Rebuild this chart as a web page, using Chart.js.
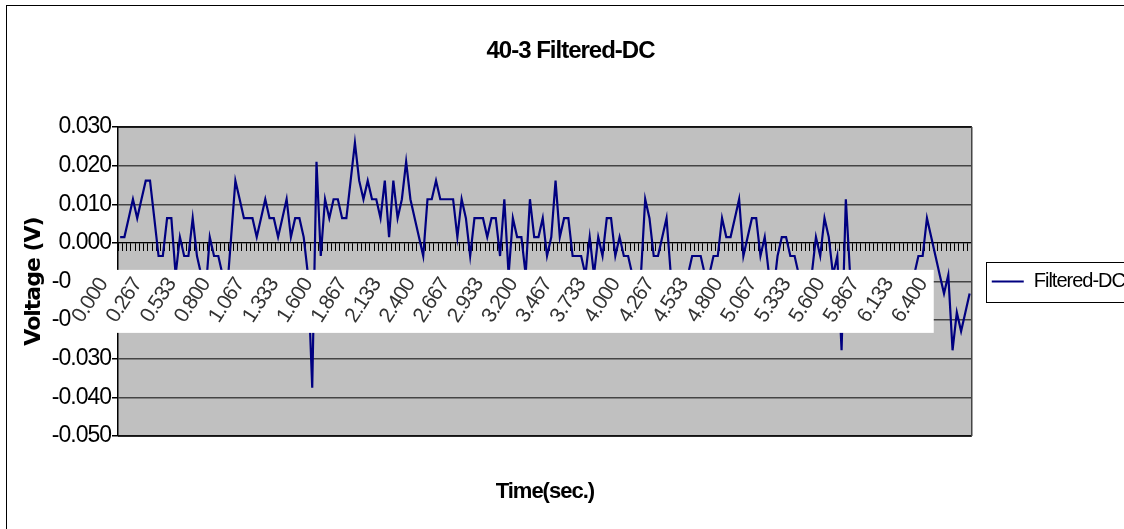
<!DOCTYPE html>
<html>
<head>
<meta charset="utf-8">
<title>40-3 Filtered-DC</title>
<script src="https://cdn.jsdelivr.net/npm/chart.js@4.4.1/dist/chart.umd.min.js"></script>
<style>
  html, body { margin: 0; padding: 0; background: #fff; overflow: hidden; width: 1124px; height: 529px; }
  #frame { position: absolute; left: 6px; top: 5px; width: 1117px; height: 600px;
           border-left: 1px solid #000; border-top: 1px solid #000; }
  #chart { position: absolute; left: 0; top: 0; }
</style>
</head>
<body>
<div id="frame"></div>
<canvas id="chart" width="1150" height="529"></canvas>
<script>
// Sample times (s), one reading every 1/30 s
const TIME_S = [
  0.000,0.033,0.067,0.100,0.133,0.167,0.200,0.233,0.267,0.300,0.333,0.367,0.400,0.433,0.467,0.500,0.533,0.567,0.600,0.633,0.667,0.700,0.733,0.767,0.800,0.833,0.867,0.900,0.933,0.967,
  1.000,1.033,1.067,1.100,1.133,1.167,1.200,1.233,1.267,1.300,1.333,1.367,1.400,1.433,1.467,1.500,1.533,1.567,1.600,1.633,1.667,1.700,1.733,1.767,1.800,1.833,1.867,1.900,1.933,1.967,
  2.000,2.033,2.067,2.100,2.133,2.167,2.200,2.233,2.267,2.300,2.333,2.367,2.400,2.433,2.467,2.500,2.533,2.567,2.600,2.633,2.667,2.700,2.733,2.767,2.800,2.833,2.867,2.900,2.933,2.967,
  3.000,3.033,3.067,3.100,3.133,3.167,3.200,3.233,3.267,3.300,3.333,3.367,3.400,3.433,3.467,3.500,3.533,3.567,3.600,3.633,3.667,3.700,3.733,3.767,3.800,3.833,3.867,3.900,3.933,3.967,
  4.000,4.033,4.067,4.100,4.133,4.167,4.200,4.233,4.267,4.300,4.333,4.367,4.400,4.433,4.467,4.500,4.533,4.567,4.600,4.633,4.667,4.700,4.733,4.767,4.800,4.833,4.867,4.900,4.933,4.967,
  5.000,5.033,5.067,5.100,5.133,5.167,5.200,5.233,5.267,5.300,5.333,5.367,5.400,5.433,5.467,5.500,5.533,5.567,5.600,5.633,5.667,5.700,5.733,5.767,5.800,5.833,5.867,5.900,5.933,5.967,
  6.000,6.033,6.067,6.100,6.133,6.167,6.200,6.233,6.267,6.300,6.333,6.367,6.400,6.433,6.467,6.500,6.533,6.567,6.600,6.633
];

// Filtered DC voltage (V)
const VOLTAGE = [
  0.0015,0.0015,0.0064,0.0113,0.0064,0.0113,0.0161,0.0161,0.0064,-0.0034,
  -0.0034,0.0064,0.0064,-0.0083,0.0015,-0.0034,-0.0034,0.0064,-0.0034,-0.0083,
  -0.0131,0.0015,-0.0034,-0.0034,-0.0083,-0.0131,0.0015,0.0161,0.0113,0.0064,
  0.0064,0.0064,0.0015,0.0064,0.0113,0.0064,0.0064,0.0015,0.0064,0.0113,
  0.0015,0.0064,0.0064,0.0015,-0.0083,-0.0375,0.0210,-0.0034,0.0113,0.0064,
  0.0113,0.0113,0.0064,0.0064,0.0161,0.0259,0.0161,0.0113,0.0161,0.0113,
  0.0113,0.0064,0.0161,0.0015,0.0161,0.0064,0.0113,0.0210,0.0113,0.0064,
  0.0015,-0.0034,0.0113,0.0113,0.0161,0.0113,0.0113,0.0113,0.0113,0.0015,
  0.0113,0.0064,-0.0034,0.0064,0.0064,0.0064,0.0015,0.0064,0.0064,-0.0034,
  0.0113,-0.0083,0.0064,0.0015,0.0015,-0.0083,0.0113,0.0015,0.0015,0.0064,
  -0.0034,0.0015,0.0161,0.0015,0.0064,0.0064,-0.0034,-0.0034,-0.0034,-0.0083,
  0.0015,-0.0083,0.0015,-0.0034,0.0064,0.0064,-0.0034,0.0015,-0.0034,-0.0034,
  -0.0083,-0.0131,-0.0083,0.0113,0.0064,-0.0034,-0.0034,0.0015,0.0064,-0.0083,
  -0.0131,-0.0083,-0.0131,-0.0083,-0.0034,-0.0034,-0.0034,-0.0083,-0.0083,-0.0034,
  -0.0034,0.0064,0.0015,0.0015,0.0064,0.0113,-0.0034,0.0015,0.0064,0.0064,
  -0.0034,0.0015,-0.0083,-0.0131,-0.0034,0.0015,0.0015,-0.0034,-0.0034,-0.0083,
  -0.0131,-0.0131,-0.0083,0.0015,-0.0034,0.0064,0.0015,-0.0083,-0.0034,-0.0278,
  0.0113,-0.0083,-0.0131,-0.0083,-0.0131,-0.0180,-0.0131,-0.0083,-0.0131,-0.0083,
  -0.0083,-0.0131,-0.0180,-0.0131,-0.0083,-0.0131,-0.0083,-0.0034,-0.0034,0.0064,
  0.0015,-0.0034,-0.0083,-0.0131,-0.0083,-0.0278,-0.0180,-0.0229,-0.0180,-0.0131
];

// Time axis labels, one every 8 samples
const TICK_LABELS = ['0.000','0.267','0.533','0.800','1.067','1.333','1.600','1.867','2.133','2.400',
  '2.667','2.933','3.200','3.467','3.733','4.000','4.267','4.533','4.800','5.067','5.333','5.600',
  '5.867','6.133','6.400'];
const LABEL_EVERY = 8;

// Voltage axis range
const Y_MIN = -0.05, Y_MAX = 0.03, Y_STEP = 0.01;

const SANS = "'Liberation Sans', Arial, sans-serif";
const TIGHT = '-1px';

// Tight lettering, grey plot area, its frame, the white band behind the time labels and the legend frame
const chartFrame = {
  id: 'chartFrame',
  beforeUpdate(chart) {
    chart.ctx.letterSpacing = TIGHT;
  },
  beforeDraw(chart) {
    const {ctx, chartArea: a} = chart;
    ctx.letterSpacing = TIGHT;
    ctx.save();
    ctx.fillStyle = '#c0c0c0';
    ctx.fillRect(a.left, a.top, a.width, a.height);
    ctx.restore();
  },
  beforeDatasetsDraw(chart) {
    const {ctx, chartArea: a} = chart;
    ctx.save();
    ctx.strokeStyle = '#000';
    ctx.lineWidth = 1.5;
    ctx.beginPath();
    ctx.moveTo(a.left, a.top); ctx.lineTo(a.right, a.top);
    ctx.moveTo(a.left, a.bottom); ctx.lineTo(a.right, a.bottom);
    ctx.stroke();
    ctx.strokeStyle = '#444';
    ctx.beginPath();
    ctx.moveTo(a.right, a.top); ctx.lineTo(a.right, a.bottom);
    ctx.stroke();
    ctx.restore();
  },
  afterDatasetsDraw(chart) {
    const {ctx, chartArea: a, scales} = chart;
    const y0 = scales.y.getPixelForValue(0);
    const lastTick = (TICK_LABELS.length - 1) * LABEL_EVERY;
    const left = a.left - 46;
    const right = scales.x.getPixelForTick(lastTick) - 6;
    ctx.save();
    ctx.fillStyle = '#fff';
    ctx.fillRect(left, y0 + 27, right - left, 63);
    ctx.restore();
  },
  afterDraw(chart) {
    const {ctx, legend} = chart;
    const hb = legend.legendHitBoxes[0];
    if (!hb) return;
    const cy = hb.top + hb.height / 2;
    ctx.save();
    ctx.strokeStyle = '#000';
    ctx.lineWidth = 1;
    ctx.strokeRect(Math.round(legend.left + 14) + 0.5, Math.round(cy - 20) + 0.5, 600, 40);
    ctx.restore();
  }
};

new Chart(document.getElementById('chart'), {
  type: 'line',
  data: {
    labels: TIME_S,
    datasets: [{
      label: 'Filtered-DC',
      data: VOLTAGE,
      xAxisID: 'x',
      yAxisID: 'y',
      borderColor: '#000080',
      backgroundColor: '#000080',
      borderWidth: 2.2,
      pointRadius: 0,
      tension: 0,
      fill: false
    }]
  },
  options: {
    responsive: false,
    animation: false,
    devicePixelRatio: 1,
    events: [],
    layout: { padding: { left: 6, right: 15, top: 0, bottom: 0 } },
    plugins: {
      title: {
        display: true,
        text: '40-3 Filtered-DC',
        color: '#000',
        font: { family: SANS, size: 24, weight: 'bold' },
        padding: { top: 37, bottom: 61.2 }
      },
      legend: {
        position: 'right',
        fullSize: false,
        labels: {
          boxWidth: 32,
          boxHeight: 0,
          padding: 20,
          color: '#000',
          font: { family: SANS, size: 20 }
        }
      },
      tooltip: { enabled: false }
    },
    scales: {
      x: {
        type: 'category',
        offset: true,
        position: { y: 0 },
        grid: {
          display: true,
          drawOnChartArea: false,
          drawTicks: true,
          tickLength: 8,
          tickColor: '#000',
          tickWidth: 1,
          offset: true
        },
        border: { display: true, color: '#000', width: 1 },
        ticks: {
          autoSkip: false,
          minRotation: 57,
          maxRotation: 57,
          labelOffset: -17,
          padding: 23,
          z: 1,
          color: '#333',
          font: { family: SANS, size: 21 },
          callback: (value, index) => (index % LABEL_EVERY === 0 ? TICK_LABELS[index / LABEL_EVERY] : '')
        }
      },
      xb: {
        type: 'category',
        position: 'bottom',
        grid: { display: false },
        border: { display: false },
        ticks: { display: false },
        title: {
          display: true,
          text: 'Time(sec.)',
          color: '#000',
          font: { family: SANS, size: 22, weight: 'bold' },
          padding: { top: 0, bottom: 23.8 }
        },
        afterFit: (scale) => { scale.height = 93; }
      },
      y: {
        type: 'linear',
        min: Y_MIN,
        max: Y_MAX,
        grid: {
          color: '#444',
          lineWidth: 1.5,
          drawTicks: true,
          tickLength: 6,
          tickColor: '#000',
          tickWidth: 1.5
        },
        border: { display: true, color: '#000', width: 1.5 },
        ticks: {
          stepSize: Y_STEP,
          padding: 1,
          color: '#000',
          font: { family: SANS, size: 23 },
          callback: (v) => (Math.abs(v) < 1e-9 ? 0 : v).toFixed(3)
        },
        title: {
          display: true,
          text: 'Voltage (V)',
          color: '#000',
          font: { family: "'DejaVu Sans', sans-serif", size: 22, weight: 'bold' },
          padding: { top: 15.3, bottom: 0 }
        },
        afterFit: (scale) => { scale.width = 112; }
      }
    }
  },
  plugins: [chartFrame]
});
</script>
</body>
</html>
